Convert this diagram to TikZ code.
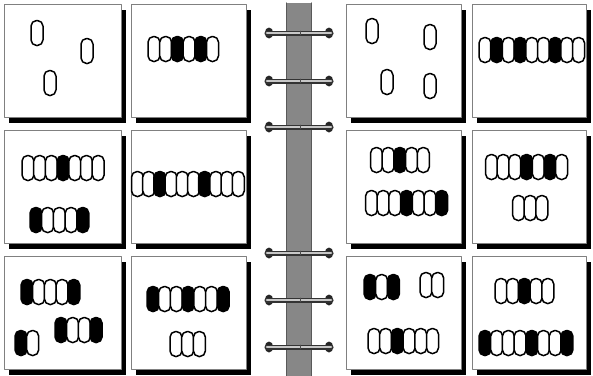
\documentclass[tikz,border=0pt]{standalone}
\tikzset{
  bead/.style={draw=black,line width=1.5pt,fill=#1,rounded corners=5.6pt},
  card/.style={draw=black!50,line width=0.8pt,fill=white},
}
\def\gap{11.7}
% chain of beads: x of first center, y, colours
\newcommand\chain[3]{\foreach \c [count=\i from 0] in {#3} \draw[bead=\c] ({#1+\gap*\i-6},#2-12.5) rectangle ({#1+\gap*\i+6},#2+12.5);}
% card with shadow: left, top, right, bottom
\newcommand\card[4]{\fill (#1+5,#2+6) rectangle (#3+5,#4+6); \draw[card] (#1,#2) rectangle (#3,#4);}
\begin{document}
\begin{tikzpicture}[x=1pt,y=-1pt,line join=round,line cap=round]
\useasboundingbox (0,0) rectangle (593,375);
% spine
\fill[black!47] (286,3) rectangle (312,380);
\draw[black!65,line width=1.2pt] (286.6,3)--(286.6,380) (311.4,3)--(311.4,380);
% rings
\foreach \y in {33,81,127,253,300,347}{
  \fill[black!85] (269,\y) ellipse [x radius=4.2pt,y radius=5.5pt] (329,\y) ellipse [x radius=4.2pt,y radius=5.5pt];
  \draw[black!80,line width=5pt] (267,\y)--(331,\y);
  \draw[black!22,line width=2.4pt] (267,\y)--(331,\y);
  \draw[black!70,line width=0.8pt] (300,\y-2)--(300,\y+2);
}
% cards
\foreach \l/\r in {4/121,131/246,346/461,472/586}
  \foreach \t/\b in {4/117,130/243,256/369}
    \card{\l}{\t}{\r}{\b};
\def\W{white} \def\B{black}
% row 1
\chain{37}{33}{\W} \chain{87}{51}{\W} \chain{50}{83}{\W}
\chain{154}{49}{\W,\W,\B,\W,\B,\W}
\chain{372}{31}{\W} \chain{430}{37}{\W} \chain{387}{82}{\W} \chain{430}{86}{\W}
\chain{485}{50}{\W,\B,\W,\B,\W,\W,\B,\W,\W}
% row 2
\chain{28}{168}{\W,\W,\W,\B,\W,\W,\W}
\chain{36}{220}{\B,\W,\W,\W,\B}
{\def\gap{11.2}\chain{137.5}{184}{\W,\W,\B,\W,\W,\W,\B,\W,\W,\W}}
\chain{376.5}{160}{\W,\W,\B,\W,\W}
\chain{371.5}{203}{\W,\W,\W,\B,\W,\W,\B}
\chain{491.5}{167}{\W,\W,\W,\B,\W,\B,\W}
\chain{518.5}{208}{\W,\W,\W}
% row 3
\chain{27}{292}{\B,\W,\W,\W,\B}
\chain{61}{330}{\B,\W,\W,\B}
\chain{21}{343}{\B,\W}
\chain{153}{299}{\B,\W,\W,\B,\W,\W,\B}
\chain{176}{344}{\W,\W,\W}
\chain{370}{287}{\B,\W,\B}
\chain{426}{285}{\W,\W}
\chain{374}{341}{\W,\W,\B,\W,\W,\W}
\chain{501}{291}{\W,\W,\B,\W,\W}
\chain{485}{343}{\B,\W,\W,\W,\B,\W,\W,\B}
\end{tikzpicture}
\end{document}
